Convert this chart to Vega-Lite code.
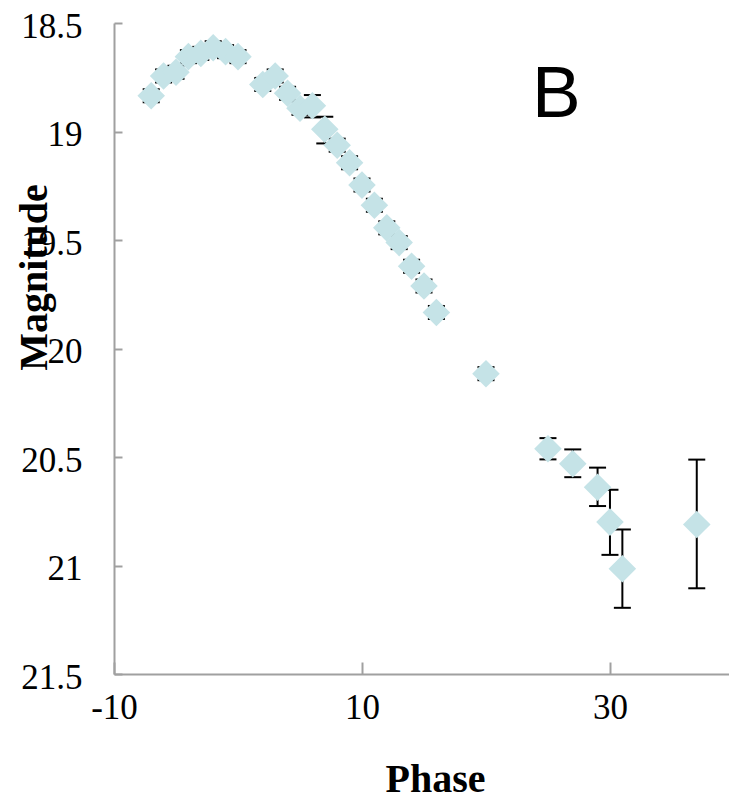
{
  "$schema": "https://vega.github.io/schema/vega-lite/v6.json",
  "autosize": {"type": "none"},
  "padding": {"left": 114, "top": 23, "right": 0, "bottom": 125},
  "width": 615,
  "height": 651,
  "config": {
    "view": {"stroke": null},
    "font": "Liberation Serif",
    "axis": {
      "grid": false,
      "domainColor": "#a0a0a0",
      "domainWidth": 2,
      "tickColor": "#a0a0a0",
      "tickWidth": 2,
      "labelFont": "Liberation Serif",
      "labelFontSize": 35,
      "labelColor": "black",
      "titleFont": "Liberation Serif",
      "titleFontSize": 40,
      "titleFontWeight": "bold",
      "titleColor": "black"
    }
  },
  "datasets": {
    "pts": [
      {"phase": -7, "mag": 18.835, "lo": 18.805, "hi": 18.865},
      {"phase": -6, "mag": 18.744, "lo": 18.714, "hi": 18.774},
      {"phase": -5, "mag": 18.727, "lo": 18.697, "hi": 18.757},
      {"phase": -4, "mag": 18.655, "lo": 18.625, "hi": 18.685},
      {"phase": -3, "mag": 18.64, "lo": 18.61, "hi": 18.67},
      {"phase": -2, "mag": 18.614, "lo": 18.584, "hi": 18.644},
      {"phase": -1, "mag": 18.632, "lo": 18.602, "hi": 18.662},
      {"phase": 0, "mag": 18.655, "lo": 18.625, "hi": 18.685},
      {"phase": 2, "mag": 18.783, "lo": 18.753, "hi": 18.813},
      {"phase": 3, "mag": 18.744, "lo": 18.714, "hi": 18.774},
      {"phase": 4, "mag": 18.824, "lo": 18.794, "hi": 18.854},
      {"phase": 5, "mag": 18.893, "lo": 18.863, "hi": 18.923},
      {"phase": 6, "mag": 18.881, "lo": 18.832, "hi": 18.935},
      {"phase": 7, "mag": 18.99, "lo": 18.932, "hi": 19.055},
      {"phase": 8, "mag": 19.063, "lo": 19.033, "hi": 19.093},
      {"phase": 9, "mag": 19.144, "lo": 19.114, "hi": 19.174},
      {"phase": 10, "mag": 19.247, "lo": 19.217, "hi": 19.277},
      {"phase": 11, "mag": 19.34, "lo": 19.31, "hi": 19.37},
      {"phase": 12, "mag": 19.444, "lo": 19.414, "hi": 19.474},
      {"phase": 13, "mag": 19.512, "lo": 19.482, "hi": 19.542},
      {"phase": 14, "mag": 19.621, "lo": 19.591, "hi": 19.651},
      {"phase": 15, "mag": 19.712, "lo": 19.682, "hi": 19.742},
      {"phase": 16, "mag": 19.834, "lo": 19.804, "hi": 19.864},
      {"phase": 20, "mag": 20.116, "lo": 20.086, "hi": 20.146},
      {"phase": 25, "mag": 20.462, "lo": 20.413, "hi": 20.511},
      {"phase": 27, "mag": 20.531, "lo": 20.465, "hi": 20.593},
      {"phase": 29, "mag": 20.639, "lo": 20.549, "hi": 20.726},
      {"phase": 30, "mag": 20.8, "lo": 20.651, "hi": 20.951},
      {"phase": 31, "mag": 21.015, "lo": 20.834, "hi": 21.195},
      {"phase": 37, "mag": 20.811, "lo": 20.512, "hi": 21.105}
    ],
    "lbl": [{"phase": 25.67, "mag": 18.932, "label": "B"}]
  },
  "encoding": {
    "x": {
      "field": "phase",
      "type": "quantitative",
      "scale": {"domain": [-10, 39.6], "nice": false, "zero": false},
      "axis": {
        "title": "Phase",
        "values": [-10, 10, 30],
        "labelExpr": "'' + datum.value",
        "tickSize": -12,
        "labelBaseline": "alphabetic",
        "labelPadding": 56.5,
        "labelFlush": false,
        "labelOverlap": false,
        "titleX": 321,
        "titleY": 117,
        "titleAlign": "center",
        "titleBaseline": "alphabetic",
        "titleAnchor": null
      }
    },
    "y": {
      "field": "mag",
      "type": "quantitative",
      "title": "Magnitude",
      "scale": {"domain": [18.5, 21.5], "reverse": true, "nice": false, "zero": false},
      "axis": {
        "title": "Magnitude",
        "values": [18.5, 19, 19.5, 20, 20.5, 21, 21.5],
        "labelExpr": "'' + datum.value",
        "tickSize": -8,
        "labelPadding": 40,
        "labelBaseline": "alphabetic",
        "labelOffset": 14,
        "labelFlush": false,
        "labelOverlap": false,
        "titleX": -68,
        "titleY": 254,
        "titleAngle": -90,
        "titleAlign": "center",
        "titleBaseline": "alphabetic",
        "titleAnchor": null
      }
    }
  },
  "layer": [
    {
      "data": {"name": "pts"},
      "mark": {"type": "rule", "color": "black", "strokeWidth": 2},
      "encoding": {
        "y": {"field": "lo", "type": "quantitative", "title": "Magnitude"},
        "y2": {"field": "hi"}
      }
    },
    {
      "data": {"name": "pts"},
      "mark": {"type": "tick", "orient": "horizontal", "color": "black", "size": 17, "thickness": 2, "opacity": 1},
      "encoding": {
        "y": {"field": "lo", "type": "quantitative", "title": "Magnitude"}
      }
    },
    {
      "data": {"name": "pts"},
      "mark": {"type": "tick", "orient": "horizontal", "color": "black", "size": 17, "thickness": 2, "opacity": 1},
      "encoding": {
        "y": {"field": "hi", "type": "quantitative", "title": "Magnitude"}
      }
    },
    {
      "data": {"name": "pts"},
      "mark": {"type": "point", "shape": "diamond", "filled": true, "color": "#c5e3e7", "opacity": 1, "size": 760, "strokeWidth": 0}
    },
    {
      "data": {"name": "lbl"},
      "mark": {"type": "text", "font": "Liberation Sans", "fontSize": 73, "color": "black", "align": "center", "baseline": "alphabetic"},
      "encoding": {"text": {"field": "label"}}
    }
  ]
}
